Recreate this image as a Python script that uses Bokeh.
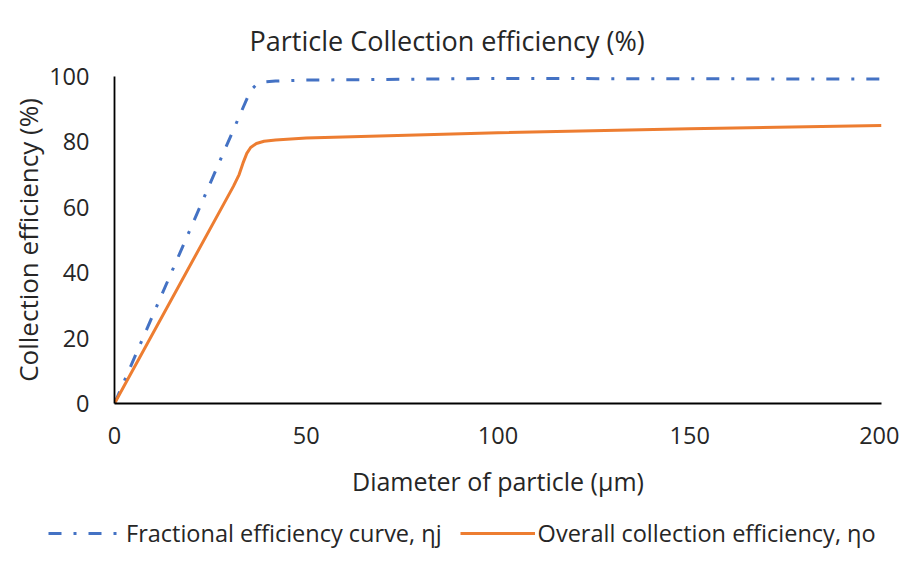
from bokeh.plotting import figure
from bokeh.models import Legend, LegendItem, FixedTicker
from bokeh.layouts import column, row
from bokeh.embed import file_html
from bokeh.resources import INLINE

# Data
frac_x = [0, 35.5, 37, 39, 42, 50, 100, 150, 200]
frac_y = [0, 95.8, 97.5, 98.3, 98.6, 98.9, 99.4, 99.3, 99.2]

overall_x = [0, 31, 32.5, 33.5, 34.5, 35.5, 37, 39, 42, 50, 100, 150, 200]
overall_y = [0, 66.4, 70, 73.5, 76.5, 78.3, 79.5, 80.2, 80.6, 81.2, 82.8, 84.0, 85.0]

x_ticks = [0, 50, 100, 150, 200]
y_ticks = [0, 20, 40, 60, 80, 100]

title_text = "Particle Collection efficiency (%)"
x_label = "Diameter of particle (µm)"
y_label = "Collection efficiency (%)"
label_frac = "Fractional efficiency curve, ηj"
label_overall = "Overall collection efficiency, ηo"

FONT = "Open Sans"
TXT = "#262626"
BLUE = "#4472C4"
ORANGE = "#ED7D31"
BLUE_DASH = "13 12 3 12"

p = figure(width=899, height=510, x_range=(0, 200), y_range=(0, 100),
           output_backend="svg", toolbar_location=None,
           min_border_left=114, min_border_right=18,
           min_border_top=76, min_border_bottom=107)

p.title.text = title_text
p.title.align = "left"
p.title.offset = 135
p.title.text_font = FONT
p.title.text_font_size = "27px"
p.title.text_font_style = "normal"
p.title.text_color = TXT
p.title.standoff = 36

p.outline_line_color = None
p.grid.visible = False

for ax in (p.xaxis[0], p.yaxis[0]):
    ax.axis_line_color = "black"
    ax.axis_line_width = 1.8
    ax.major_tick_out = 0
    ax.major_tick_in = 0
    ax.minor_tick_out = 0
    ax.minor_tick_in = 0
    ax.major_tick_line_color = None
    ax.minor_tick_line_color = None
    ax.major_label_text_font = FONT
    ax.major_label_text_font_size = "23.5px"
    ax.major_label_text_color = TXT
    ax.axis_label_text_font = FONT
    ax.axis_label_text_font_style = "normal"
    ax.axis_label_text_color = TXT

p.xaxis.axis_label_text_font_size = "25px"
p.yaxis.axis_label_text_font_size = "26px"
p.xaxis.ticker = FixedTicker(ticks=x_ticks)
p.yaxis.ticker = FixedTicker(ticks=y_ticks)
p.xaxis.axis_label = x_label
p.yaxis.axis_label = y_label
p.xaxis.major_label_standoff = 23
p.yaxis.major_label_standoff = 25
p.xaxis.axis_label_standoff = 17
p.yaxis.axis_label_standoff = 0

p.line(frac_x, frac_y, line_color=BLUE, line_width=3, line_dash=BLUE_DASH)
p.line(overall_x, overall_y, line_color=ORANGE, line_width=3)

# Legend strip below the chart (its lines lie outside its visible range)
leg = figure(width=899, height=39, x_range=(-20, -10), y_range=(0, 1),
             output_backend="svg", toolbar_location=None, min_border=0,
             x_axis_location=None, y_axis_location=None)
leg.grid.visible = False
leg.outline_line_color = None
l1 = leg.line(frac_x, frac_y, line_color=BLUE, line_width=3, line_dash=BLUE_DASH)
l2 = leg.line(overall_x, overall_y, line_color=ORANGE, line_width=3)

legend = Legend(items=[LegendItem(label=label_frac, renderers=[l1]),
                       LegendItem(label=label_overall, renderers=[l2])],
                orientation="horizontal", location=(48, 0),
                glyph_width=75, label_standoff=3, spacing=18,
                padding=0, margin=0, border_line_color=None,
                background_fill_alpha=0,
                label_text_font=FONT, label_text_font_size="23.5px",
                label_text_color=TXT)
leg.add_layout(legend, "center")

layout = column(p, row(leg), spacing=0)
open("out.html", "w").write(file_html(layout, INLINE))
